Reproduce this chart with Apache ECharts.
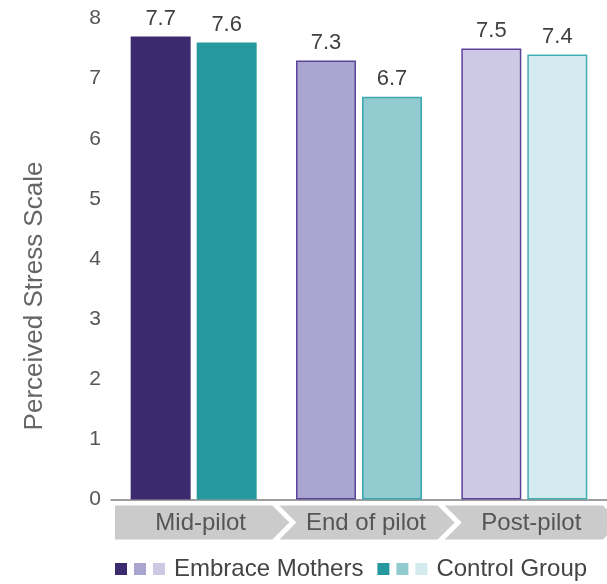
<!DOCTYPE html>
<html>
<head>
<meta charset="utf-8">
<title>Perceived Stress Scale</title>
<script src="https://cdn.jsdelivr.net/npm/echarts@6/dist/echarts.min.js"></script>
<style>
  html, body { margin: 0; padding: 0; background: #fff; }
  #chart { width: 607px; height: 584px; }
</style>
</head>
<body>
<div id="chart"></div>
<script>
// Survey phases and mean Perceived Stress Scale scores per group
const categories = ['Mid-pilot', 'End of pilot', 'Post-pilot'];
const embraceMothers = [7.7, 7.3, 7.5];
const controlGroup = [7.6, 6.7, 7.4];
const seriesNames = ['Embrace Mothers', 'Control Group'];
const yMin = 0, yMax = 8, yStep = 1;

// One shade per phase, darkest first
const purpleFill = ['#3c2a6e', '#aaa4d0', '#cdc8e3'];
const purpleEdge = ['#3c2a6e', '#5b4399', '#5b4399'];
const tealFill = ['#26999e', '#91cbcf', '#d3ebee'];
const tealEdge = ['#26999e', '#3aa8ad', '#44aeb3'];

const FONT = '"Liberation Sans", Arial, sans-serif';

function barData(values, fills, edges) {
  return values.map((v, i) => ({
    value: v,
    itemStyle: { color: fills[i], borderColor: edges[i], borderWidth: 1.5 }
  }));
}

// Chevron band below the axis, one arrow per phase
function renderChevron(params, api) {
  const idx = api.value(0);
  const c = api.coord([idx, 0]);
  const bw = api.size([1, 0])[0];
  const L = c[0] - bw / 2, R = c[0] + bw / 2;
  const top = c[1] + 6, bot = c[1] + 40, mid = (top + bot) / 2;
  const d = 17;
  const x0 = idx === 0 ? L + 4 : L + 3;
  const x1 = R - 4;
  const pts = [[x0, top], [x1, top], [x1 + d, mid], [x1, bot], [x0, bot]];
  if (idx !== 0) pts.push([x0 + d, mid]);
  return {
    type: 'group',
    children: [
      { type: 'polygon', shape: { points: pts }, style: { fill: '#cbcbcb' } },
      {
        type: 'text',
        style: {
          text: categories[idx], x: c[0] + 7, y: mid + 1,
          align: 'center', verticalAlign: 'middle',
          fontSize: 24, fontFamily: FONT, fill: '#555555'
        }
      }
    ]
  };
}

const swatch = (col) => ({ width: 12, height: 12, backgroundColor: col });

const chart = echarts.init(document.getElementById('chart'), null, { renderer: 'canvas' });
chart.setOption({
  animation: false,
  textStyle: { fontFamily: FONT },
  grid: { left: 111, right: 0, top: 18.5, bottom: 84.5 },
  legend: {
    data: seriesNames,
    left: 105, top: 552,
    icon: 'rect', itemWidth: 0, itemHeight: 0, itemGap: 9,
    selectedMode: false,
    formatter: (name) => name === seriesNames[0]
      ? '{p1|}{g|}{p2|}{g|}{p3|}{h|}' + name
      : '{t1|}{g|}{t2|}{g|}{t3|}{h|}' + name,
    textStyle: {
      fontSize: 24, color: '#444444', fontFamily: FONT,
      rich: {
        p1: swatch(purpleFill[0]), p2: swatch(purpleFill[1]), p3: swatch(purpleFill[2]),
        t1: swatch(tealFill[0]), t2: swatch(tealFill[1]), t3: swatch(tealFill[2]),
        g: { width: 7 }, h: { width: 9 }
      }
    }
  },
  xAxis: {
    type: 'category',
    data: categories,
    axisLine: { lineStyle: { color: '#7f7f7f', width: 1.5 } },
    axisTick: { show: false },
    axisLabel: { show: false },
    splitLine: { show: false }
  },
  yAxis: {
    type: 'value',
    min: yMin, max: yMax, interval: yStep,
    name: 'Perceived Stress Scale',
    nameLocation: 'middle',
    nameRotate: 90,
    nameGap: 63,
    nameTextStyle: { fontSize: 26, color: '#666666', fontFamily: FONT, padding: [0, 74, 0, 0] },
    axisLine: { show: false },
    axisTick: { show: false },
    splitLine: { show: false },
    axisLabel: { fontSize: 21, color: '#555555', margin: 10, fontFamily: FONT }
  },
  series: [
    {
      name: seriesNames[0], type: 'bar', barWidth: 60, barGap: '10%',
      data: barData(embraceMothers, purpleFill, purpleEdge),
      label: { show: true, position: 'top', distance: 7, fontSize: 22, color: '#404040', fontFamily: FONT }
    },
    {
      name: seriesNames[1], type: 'bar', barWidth: 60, barGap: '10%',
      data: barData(controlGroup, tealFill, tealEdge),
      label: { show: true, position: 'top', distance: 7, fontSize: 22, color: '#404040', fontFamily: FONT }
    },
    {
      type: 'custom', silent: true, clip: false, z: 1,
      renderItem: renderChevron,
      data: categories.map((c, i) => [i, 0]),
      encode: { x: 0, y: 1 }
    }
  ]
});
</script>
</body>
</html>
